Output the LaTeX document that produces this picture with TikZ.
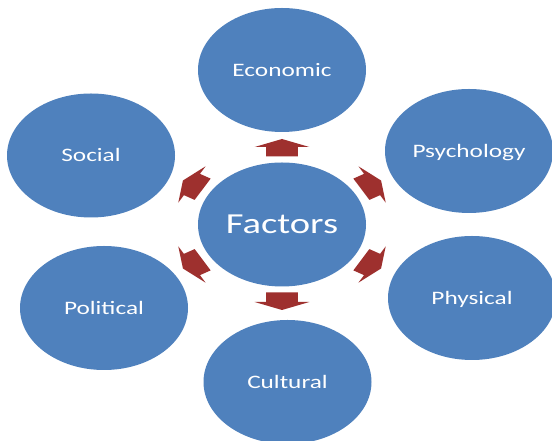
\documentclass[tikz,border=0pt]{standalone}
\usepackage{fontspec}
\setmainfont{Carlito}
\usepackage{graphicx}
\usetikzlibrary{shapes.geometric}
\definecolor{ballblue}{RGB}{79,129,189}
\definecolor{arrred}{RGB}{158,48,46}
\newcommand{\widetxt}[1]{\scalebox{1.33}[1]{#1}}
\begin{document}
\begin{tikzpicture}[x=1pt,y=1pt,
  ball/.style={ellipse, fill=ballblue, draw=none, minimum width=168pt,
    minimum height=124pt, inner sep=0pt, text=white,
    font=\fontsize{19}{21}\selectfont, text height=12.2pt, text depth=0pt},
  hub/.style={ball, font=\fontsize{29}{31}\selectfont, text height=18.7pt},
  blockarrow/.style={fill=arrred, draw=none}
]
\useasboundingbox (0,0) rectangle (552,441);
\clip (0,0) rectangle (552,441);
\fill[white] (0,0) rectangle (552,441);

\node[hub]  (F)   at (282,216.5) {\widetxt{Factors}};
\node[ball] (eco) at (282,371)   {\widetxt{Economic}};
\node[ball] (psy) at (469,290)   {\widetxt{Psychology}};
\node[ball] (soc) at (91,285.5)  {\widetxt{Social}};
\node[ball] (pol) at (104,133)   {\widetxt{Political}};
\node[ball] (phy) at (472,143)   {\widetxt{Physical}};
\node[ball] (cul) at (287.5,59)  {\widetxt{Cultural}};

\foreach \ang/\rad in {90/77.5,30/80,-30/80,-90/77.5,-150/80,150/80}{
  \begin{scope}[shift={(F.center)}, xscale=1.3, rotate=\ang, shift={(\rad,0)}]
    \fill[blockarrow] (8,0) -- (0,21) -- (0,12.3) -- (-9.5,12.3) -- (-9.5,-12.3)
      -- (0,-12.3) -- (0,-21) -- cycle;
  \end{scope}
}
\end{tikzpicture}
\end{document}
